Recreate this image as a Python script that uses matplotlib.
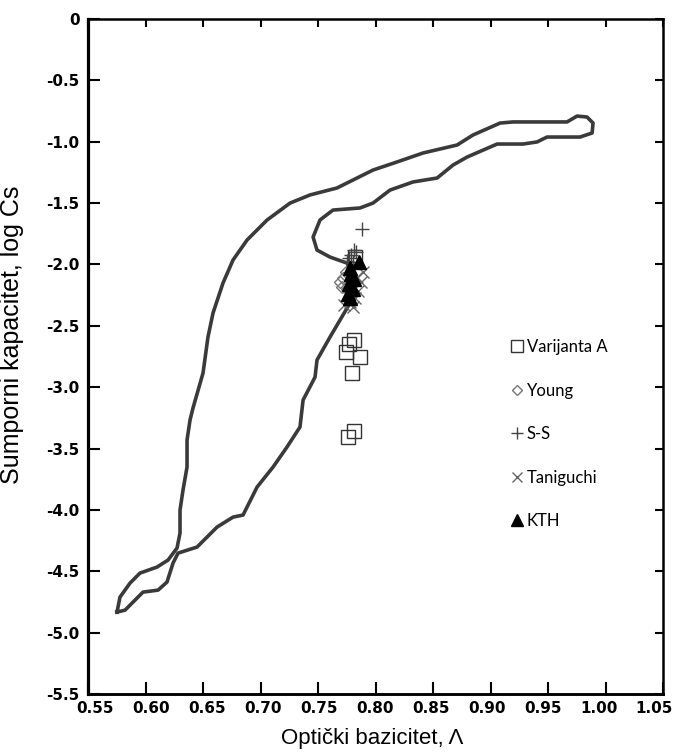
import numpy as np
import matplotlib
matplotlib.use('Agg')
import matplotlib.pyplot as plt
import matplotlib.transforms as mtransforms
from matplotlib.ticker import FuncFormatter, MultipleLocator

# contour of the slag region (traced), closed loop
kontura_x = [0.5752, 0.5778, 0.5865, 0.5952, 0.6100, 0.6196, 0.6274, 0.6300, 0.6300, 0.6326,
             0.6361, 0.6361, 0.6387, 0.6413, 0.6500, 0.6543, 0.6587, 0.6674, 0.6761, 0.6883,
             0.7057, 0.7257, 0.7430, 0.7665, 0.7978, 0.8187, 0.8413, 0.8709, 0.8848, 0.9083,
             0.9196, 0.9665, 0.9752, 0.9839, 0.9891, 0.9883, 0.9778, 0.9491, 0.9404, 0.9283,
             0.9057, 0.8796, 0.8674, 0.8535, 0.8326, 0.8126, 0.7978, 0.7865, 0.7630, 0.7517,
             0.7457, 0.7491, 0.7604, 0.7752, 0.7804, 0.7778, 0.7604, 0.7491, 0.7474, 0.7370,
             0.7343, 0.7230, 0.7109, 0.6970, 0.6848, 0.6761, 0.6622, 0.6448, 0.6283, 0.6239,
             0.6187, 0.6109, 0.5978, 0.5822, 0.5752]
kontura_y = [-4.833, -4.711, -4.597, -4.515, -4.466, -4.409, -4.311, -4.189, -4.002, -3.839,
             -3.651, -3.431, -3.268, -3.170, -2.885, -2.592, -2.396, -2.151, -1.964, -1.801,
             -1.638, -1.500, -1.434, -1.377, -1.231, -1.165, -1.092, -1.027, -0.945, -0.848,
             -0.839, -0.839, -0.791, -0.799, -0.848, -0.929, -0.962, -0.962, -1.002, -1.019,
             -1.019, -1.125, -1.190, -1.296, -1.328, -1.394, -1.500, -1.540, -1.557, -1.638,
             -1.777, -1.883, -1.940, -1.989, -2.086, -2.315, -2.592, -2.779, -2.918, -3.105,
             -3.325, -3.488, -3.651, -3.814, -4.042, -4.059, -4.140, -4.303, -4.352, -4.434,
             -4.588, -4.654, -4.670, -4.817, -4.833]

# Varijanta A
var_a_x = [0.7813, 0.7770, 0.7743, 0.7865, 0.7796, 0.7813, 0.7761, 0.7820]
var_a_y = [-2.616, -2.649, -2.714, -2.755, -2.885, -3.358, -3.407, -1.94]
# Young
young_x = [0.769, 0.771, 0.772, 0.774, 0.775]
young_y = [-2.14, -2.18, -2.11, -2.06, -2.20]
# S-S
ss_x = [0.788, 0.781, 0.779, 0.777, 0.775, 0.783, 0.780]
ss_y = [-1.71, -1.88, -1.92, -1.95, -1.97, -1.90, -1.98]
# Taniguchi
tan_x = [0.789, 0.787, 0.785, 0.782, 0.778, 0.773, 0.780, 0.784]
tan_y = [-2.06, -2.14, -2.22, -2.27, -2.31, -2.33, -2.35, -2.10]
# KTH
kth_x = [0.786, 0.778, 0.779, 0.781, 0.777, 0.780, 0.776, 0.778]
kth_y = [-1.98, -2.03, -2.08, -2.12, -2.16, -2.20, -2.24, -2.27]

fig = plt.figure(figsize=(6.78, 7.53), dpi=100)
ax = fig.add_axes([0.1298, 0.0784, 0.8482, 0.8964])

ax.plot(kontura_x, kontura_y, color='#3a3a3a', lw=2.6, solid_joinstyle='round', zorder=2)

ax.plot(var_a_x, var_a_y, 's', ms=9.5, mfc='none', mec='#333333', mew=1.0, ls='none',
        label='Varijanta A', zorder=3)
ax.plot(young_x, young_y, 'D', ms=6.5, mfc='none', mec='#777777', mew=1.0, ls='none',
        label='Young', zorder=3)
ax.plot(ss_x, ss_y, '+', ms=10, mec='#444444', mew=1.0, ls='none', label='S-S', zorder=3)
ax.plot(tan_x, tan_y, 'x', ms=9, mec='#666666', mew=1.0, ls='none', label='Taniguchi', zorder=3)
ax.plot(kth_x, kth_y, '^', ms=9.5, mfc='black', mec='black', ls='none', label='KTH', zorder=4)

ax.set_xlim(0.55, 1.05)
ax.set_ylim(-5.5, 0)
ax.xaxis.set_major_locator(MultipleLocator(0.05))
ax.yaxis.set_major_locator(MultipleLocator(0.5))
ax.xaxis.set_major_formatter(FuncFormatter(lambda v, p: '%.2f' % v))
ax.yaxis.set_major_formatter(FuncFormatter(lambda v, p: '0' if abs(v) < 1e-9 else '%.1f' % v))

for s in ax.spines.values():
    s.set_linewidth(1.8)
ax.spines['left'].set_linewidth(2.3)
ax.spines['bottom'].set_linewidth(2.1)
ax.tick_params(which='both', direction='in', width=1.5)
ax.tick_params(axis='both', length=8.5, labelsize=11)
ax.tick_params(top=True, right=True)
ax.tick_params(axis='x', which='major', pad=5)
ax.tick_params(axis='y', which='major', pad=6)
for t in ax.get_xticklabels() + ax.get_yticklabels():
    t.set_fontweight('bold')
    t.set_family('DejaVu Sans')
# shorter ticks on the top and right
for tk in ax.xaxis.get_major_ticks():
    tk.tick2line.set_markersize(5.5)
for tk in ax.yaxis.get_major_ticks():
    tk.tick2line.set_markersize(5.5)

# x tick labels in the original sit slightly squeezed: shift each a bit
for i, t in enumerate(ax.get_xticklabels()):
    dx = (9 - 1.6 * i) / 100.0
    t.set_transform(t.get_transform() + mtransforms.ScaledTranslation(dx, 0, fig.dpi_scale_trans))

ax.set_xlabel('Optički bazicitet, Λ', fontsize=16, family='Liberation Sans')
ax.set_ylabel('Sumporni kapacitet, log Cs', fontsize=18, family='Liberation Sans')
ax.xaxis.set_label_coords(0.494, -0.05)
ax.yaxis.set_label_coords(-0.111, 0.532)

leg = ax.legend(loc='upper left', bbox_to_anchor=(0.709, 0.548), frameon=False,
                handlelength=0.8, handletextpad=0.15, labelspacing=1.65, markerscale=0.85,
                prop={'family': 'Lato', 'size': 12})

fig.savefig('out.png', dpi=100)
